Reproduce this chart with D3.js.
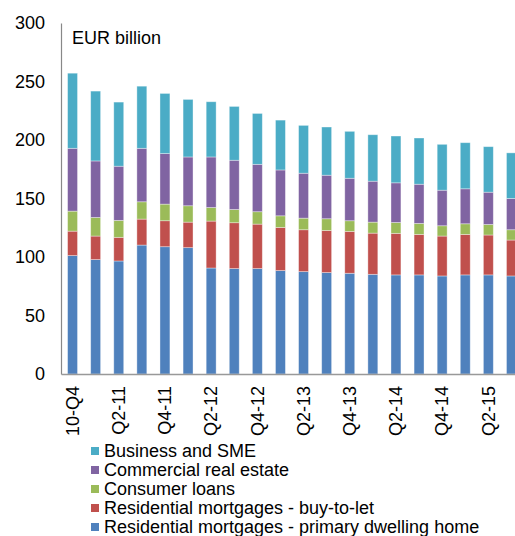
<!DOCTYPE html>
<html>
<head>
<meta charset="utf-8">
<script src="https://d3js.org/d3.v7.min.js"></script>
<style>
  body { margin: 0; background: #fff; }
  svg { display: block; font-family: "Liberation Sans", Arial, sans-serif; }
</style>
</head>
<body>
<svg id="chart" width="515" height="536"></svg>
<script>
// quarters on the x axis
var quarters = ["10-Q4", "Q1-11", "Q2-11", "Q3-11", "Q4-11", "Q1-12", "Q2-12", "Q3-12", "Q4-12", "Q1-13",
	"Q2-13", "Q3-13", "Q4-13", "Q1-14", "Q2-14", "Q3-14", "Q4-14", "Q1-15", "Q2-15", "Q3-15"];

// EUR billion
var primaryHome = [101.2, 97.8, 96.6, 110.2, 108.8, 108.0, 90.6, 90.1, 90.1, 88.4,
	87.5, 86.7, 86.1, 85.2, 84.7, 84.7, 83.8, 84.7, 84.7, 83.8];
var buyToLet = [20.9, 20.1, 20.2, 22.2, 22.2, 21.8, 40.1, 39.2, 38.0, 36.9,
	35.8, 36.0, 35.8, 35.2, 35.5, 34.6, 34.1, 34.6, 34.1, 30.7];
var consumerLoans = [17.1, 15.9, 14.5, 14.8, 14.2, 14.0, 11.6, 11.3, 10.6, 9.9,
	9.9, 10.0, 9.1, 9.4, 9.3, 9.4, 8.8, 9.1, 9.0, 8.8];
var commercialRE = [53.7, 48.3, 46.3, 45.7, 43.2, 41.7, 43.2, 42.1, 40.5, 39.2,
	38.4, 37.2, 36.3, 35.0, 33.9, 33.5, 30.4, 29.9, 27.6, 26.7];
var businessSME = [64.2, 59.7, 54.8, 53.1, 51.4, 49.2, 47.2, 46.0, 43.5, 42.6,
	40.9, 41.2, 40.1, 39.7, 40.0, 39.5, 39.2, 39.4, 38.9, 39.0];

var yTicks = [0, 50, 100, 150, 200, 250, 300];
var xTickLabels = ["10-Q4", "Q2-11", "Q4-11", "Q2-12", "Q4-12", "Q2-13", "Q4-13", "Q2-14", "Q4-14", "Q2-15"];

// stacking order bottom -> top
var series = [
	{ key: "primary", name: "Residential mortgages - primary dwelling home", values: primaryHome, color: "#4F81BD" },
	{ key: "btl", name: "Residential mortgages - buy-to-let", values: buyToLet, color: "#C0504D" },
	{ key: "consumer", name: "Consumer loans", values: consumerLoans, color: "#9BBB59" },
	{ key: "cre", name: "Commercial real estate", values: commercialRE, color: "#8064A2" },
	{ key: "sme", name: "Business and SME", values: businessSME, color: "#4BACC6" }
];

var rows = quarters.map(function(q, i) {
	var r = { quarter: q };
	series.forEach(function(s) { r[s.key] = s.values[i]; });
	return r;
});

var svg = d3.select("#chart");
var LEFT = 61, BOTTOM = 374, TOP = 23, STEP = 23.1;

var xScale = d3.scaleBand().domain(quarters)
	.range([LEFT, LEFT + STEP * quarters.length])
	.paddingInner(0.57).paddingOuter(0.285);
var yScale = d3.scaleLinear().domain([0, 300]).range([BOTTOM, TOP]);

var stack = d3.stack().keys(series.map(function(s) { return s.key; }));
var layers = stack(rows);

svg.selectAll("g.layer").data(layers).enter().append("g")
	.attr("class", "layer")
	.attr("fill", function(d, i) { return series[i].color; })
	.selectAll("rect").data(function(d) { return d; }).enter().append("rect")
	.attr("x", function(d) { return xScale(d.data.quarter); })
	.attr("width", xScale.bandwidth())
	.attr("y", function(d) { return yScale(d[1]); })
	.attr("height", function(d) { return yScale(d[0]) - yScale(d[1]); })
	.attr("stroke", "#fff").attr("stroke-opacity", 0.45).attr("stroke-width", 0.8);

// y axis: line + labels, no tick marks
var yAxis = d3.axisLeft(yScale).tickValues(yTicks).tickSize(0).tickPadding(16);
var gy = svg.append("g").attr("transform", "translate(" + LEFT + ",0)").call(yAxis);
gy.select(".domain").attr("stroke", "#888").attr("stroke-width", 1.2);
gy.selectAll("text").attr("font-size", 18).attr("fill", "#000")
	.attr("font-family", "'Liberation Sans', Arial, sans-serif");

// x axis
var xAxis = d3.axisBottom(xScale).tickValues(xTickLabels).tickSize(0).tickPadding(0);
var gx = svg.append("g").attr("transform", "translate(0," + BOTTOM + ")").call(xAxis);
gx.select(".domain").attr("stroke", "#999").attr("stroke-width", 1.6);
gx.selectAll("text")
	.attr("font-size", 18).attr("fill", "#000")
	.attr("font-family", "'Liberation Sans', Arial, sans-serif")
	.attr("text-anchor", "end")
	.attr("transform", "translate(0,12) rotate(-90)")
	.attr("x", 0).attr("y", 0).attr("dy", "0.35em");

svg.append("text")
	.attr("x", 72).attr("y", 44)
	.attr("font-size", 18)
	.text("EUR billion");

// legend, top entry is the top of the stack
var legend = svg.append("g");
var legendItems = series.slice().reverse();
legendItems.forEach(function(s, i) {
	var cy = 451 + i * 19;
	legend.append("rect").attr("x", 91).attr("y", cy - 4).attr("width", 8).attr("height", 8).attr("fill", s.color);
	legend.append("text").attr("x", 104).attr("y", cy).attr("dy", "0.35em")
		.attr("font-size", 18).text(s.name);
});
</script>
</body>
</html>
